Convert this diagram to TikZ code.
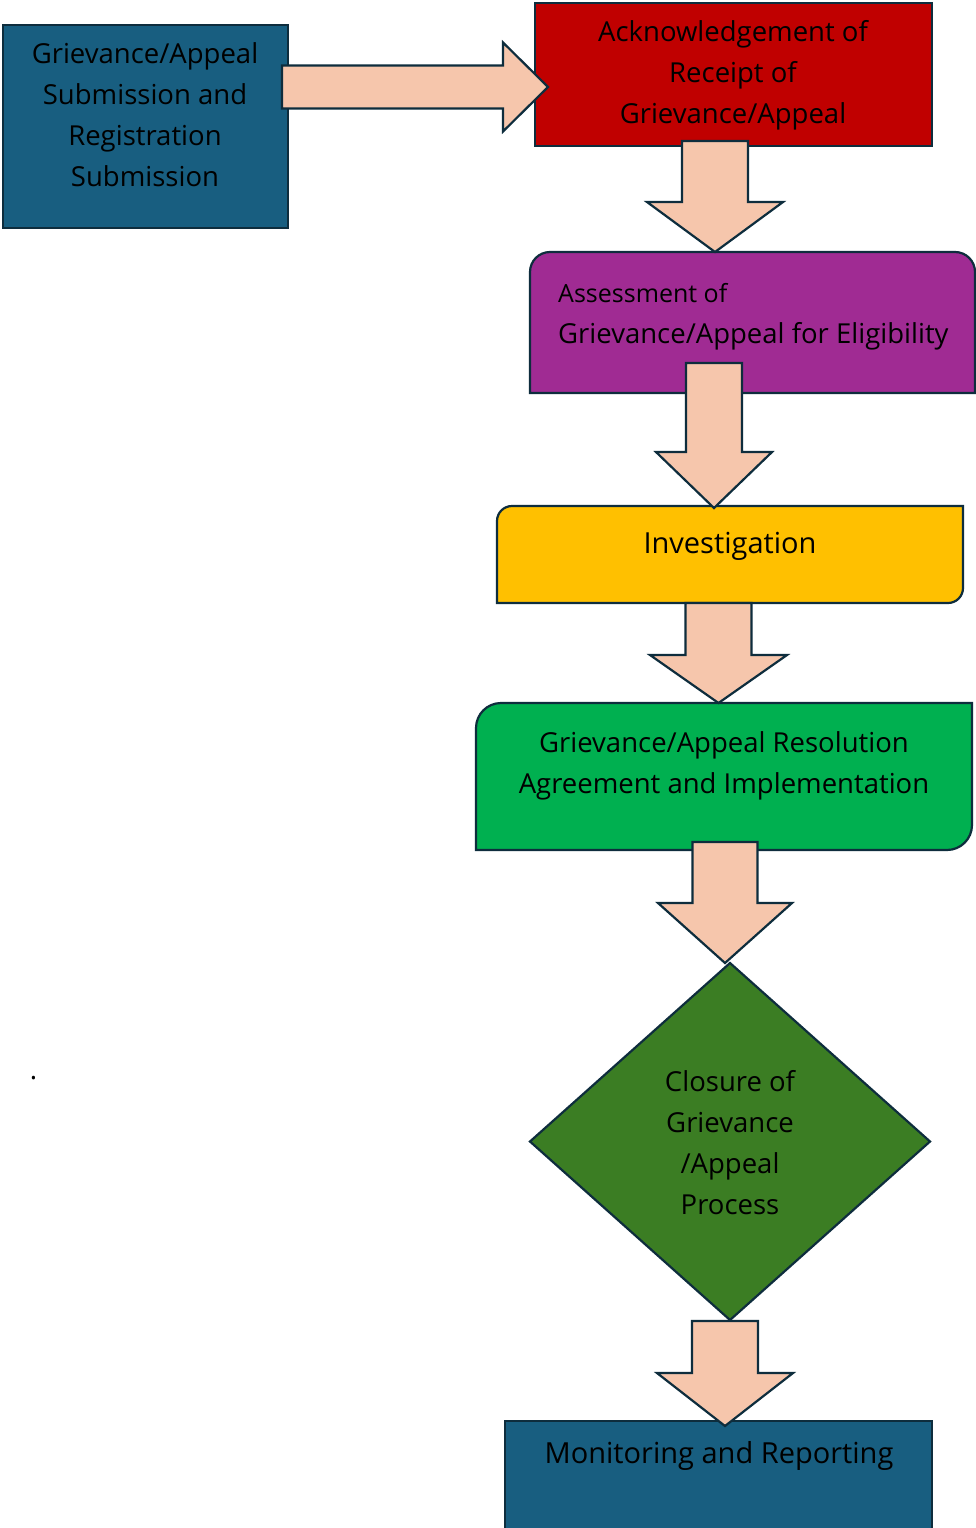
\documentclass[tikz,border=0pt]{standalone}
\usepackage{fontspec}
\setmainfont{Open Sans}
\usetikzlibrary{calc,shapes.geometric}
\definecolor{boxblue}{HTML}{185E80}
\definecolor{ackred}{HTML}{C00000}
\definecolor{asspurple}{HTML}{A02B93}
\definecolor{invyellow}{HTML}{FFC000}
\definecolor{resgreen}{HTML}{00B050}
\definecolor{closegreen}{HTML}{3B7D23}
\definecolor{arrowfill}{HTML}{F6C6AC}
\definecolor{outline}{HTML}{0E2D3D}
\newcommand\roundedshape[6]{%
  \path[shapeline, fill=#2] let \p1=(#1.north west), \p2=(#1.south east) in
  (\x1,\y1-#3pt) .. controls (\x1,\y1-0.448*#3pt) and (\x1+0.448*#3pt,\y1) .. (\x1+#3pt,\y1)
  -- (\x2-#4pt,\y1) .. controls (\x2-0.448*#4pt,\y1) and (\x2,\y1-0.448*#4pt) .. (\x2,\y1-#4pt)
  -- (\x2,\y2+#5pt) .. controls (\x2,\y2+0.448*#5pt) and (\x2-0.448*#5pt,\y2) .. (\x2-#5pt,\y2)
  -- (\x1+#6pt,\y2) .. controls (\x1+0.448*#6pt,\y2) and (\x1,\y2+0.448*#6pt) .. (\x1,\y2+#6pt)
  -- cycle;}
\newcommand\blockdown[5]{%
  \path[arrowshape] let \p1=(#1), \p2=(#2) in
  (\x2-#3pt,\y1) -- (\x2+#3pt,\y1) -- (\x2+#3pt,\y2+#5pt) -- (\x2+#4pt,\y2+#5pt)
  -- (\x2,\y2) -- (\x2-#4pt,\y2+#5pt) -- (\x2-#3pt,\y2+#5pt) -- cycle;}
\newcommand\blockright[5]{%
  \path[arrowshape] let \p1=(#1), \p2=(#2) in
  (\x1,\y2+#3pt) -- (\x2-#5pt,\y2+#3pt) -- (\x2-#5pt,\y2+#4pt) -- (\x2,\y2)
  -- (\x2-#5pt,\y2-#4pt) -- (\x2-#5pt,\y2-#3pt) -- (\x1,\y2-#3pt) -- cycle;}
\begin{document}
\begin{tikzpicture}[x=1pt,y=-1pt,
  shapeline/.style={draw=outline, line width=2.2pt, line join=miter},
  frame/.style={rectangle, inner sep=0pt, outer sep=0pt},
  boxshape/.style={frame, shapeline},
  arrowshape/.style={draw=outline, line width=2.2pt, fill=arrowfill, line join=miter},
  txt/.style={inner sep=0pt, text=black, align=center, font=\fontsize{27.5pt}{41pt}\selectfont},
  bigtxt/.style={txt, font=\fontsize{29pt}{41pt}\selectfont},
  smalltxt/.style={txt, font=\fontsize{25pt}{30pt}\selectfont}]
\useasboundingbox (0,0) rectangle (976,1528);
\fill[white] (0,0) rectangle (976,1528);

% boxes
\node[boxshape, fill=boxblue, minimum width=285pt, minimum height=203pt] (sub) at (145.5,126.5) {};
\node[boxshape, fill=ackred, minimum width=397pt, minimum height=143pt] (ack) at (733.5,74.5) {};
\node[frame, minimum width=445pt, minimum height=141pt] (assess) at (752.5,322.5) {};
\roundedshape{assess}{asspurple}{20}{20}{0}{0}
\node[frame, minimum width=466pt, minimum height=97pt] (invest) at (730,554.5) {};
\roundedshape{invest}{invyellow}{15}{0}{15}{0}
\node[frame, minimum width=496pt, minimum height=147pt] (resol) at (724,776.5) {};
\roundedshape{resol}{resgreen}{25}{0}{25}{0}
\node[diamond, shapeline, fill=closegreen, inner sep=0pt, outer sep=0pt,
      minimum width=400pt, minimum height=357pt] (closure) at (730,1141.5) {};
\node[boxshape, fill=boxblue, minimum width=427pt, minimum height=108pt] (monitor) at (718.5,1475) {};

% block arrows
\blockright{[xshift=-6pt]sub.east}{[xshift=13pt,yshift=-12.5pt]ack.west}{21.5}{44.5}{45}
\blockdown{[yshift=5pt]ack.south}{[xshift=-37.5pt]assess.north}{33}{68}{50}
\blockdown{[yshift=30pt]assess.south}{[xshift=-16pt,yshift=-2pt]invest.north}{28}{58}{56}
\blockdown{invest.south}{[xshift=-5.5pt]resol.north}{33}{68.5}{48}
\blockdown{[yshift=8pt]resol.south}{[xshift=-5pt]closure.north}{32.5}{67}{60}
\blockdown{[yshift=-1pt]closure.south}{[xshift=6.5pt,yshift=-5pt]monitor.north}{33}{68}{53}

% texts (base anchor = baseline of the last line)
\node[txt, anchor=base] (tsub) at (145,186) {Grievance/Appeal\\Submission and\\Registration\\Submission};
\node[txt, anchor=base] (tack) at (733,123) {Acknowledgement of\\Receipt of\\Grievance/Appeal};
\node[smalltxt, anchor=base west] (tass1) at (558,302) {Assessment of};
\node[txt, anchor=base west] (tass2) at (558,343) {Grievance/Appeal for Eligibility};
\node[bigtxt, anchor=base] (tinv) at (730,553) {Investigation};
\node[txt, anchor=base] (tres) at (724,793) {Grievance/Appeal Resolution\\Agreement and Implementation};
\node[txt, anchor=base] (tclo) at (730,1214) {Closure of\\Grievance\\/Appeal\\Process};
\node[bigtxt, anchor=base] (tmon) at (719,1463) {Monitoring and Reporting};
\node[txt, anchor=base] (dot) at (33.5,1079) {.};
\end{tikzpicture}
\end{document}
